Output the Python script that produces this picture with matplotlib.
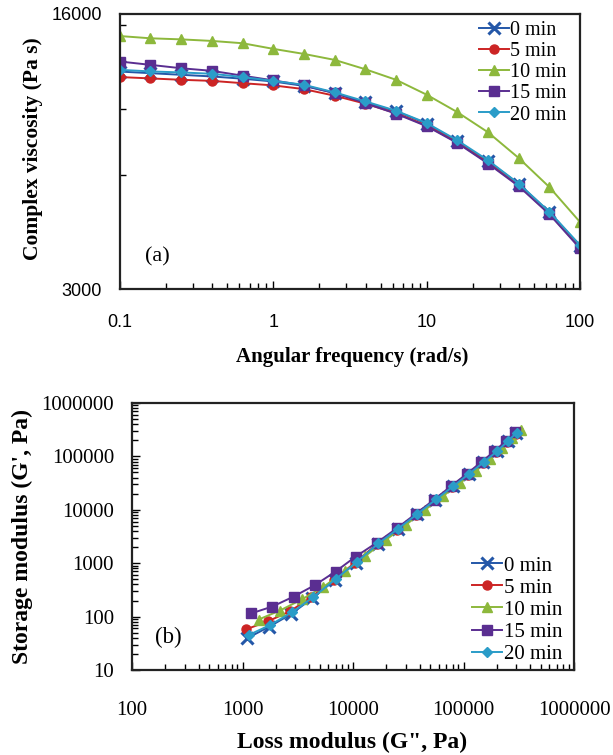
import matplotlib
matplotlib.use("Agg")
import matplotlib.pyplot as plt
from matplotlib.ticker import FixedLocator, FuncFormatter, NullFormatter

# ---------------- data ----------------
labels = ["0 min", "5 min", "10 min", "15 min", "20 min"]

freq = [0.1, 0.158, 0.251, 0.398, 0.631, 1, 1.58, 2.51, 3.98, 6.31,
        10, 15.8, 25.1, 39.8, 63.1, 100]

eta_0 = [11270, 11160, 11050, 10940, 10790, 10610, 10330, 9890, 9340, 8850,
         8210, 7370, 6530, 5690, 4790, 3900]
eta_5 = [10900, 10810, 10720, 10650, 10500, 10360, 10130, 9730, 9270, 8750,
         8110, 7330, 6470, 5640, 4750, 3860]
eta_10 = [13990, 13800, 13710, 13580, 13390, 12940, 12550, 12100, 11430, 10720,
          9790, 8810, 7790, 6660, 5580, 4510]
eta_15 = [11980, 11740, 11500, 11320, 10990, 10680, 10360, 9890, 9300, 8720,
          8080, 7300, 6440, 5610, 4730, 3840]
eta_20 = [11390, 11280, 11210, 11120, 10900, 10650, 10400, 9930, 9400, 8880,
          8240, 7420, 6570, 5700, 4800, 3920]

gpp_0 = [1094, 1754, 2742, 4290, 6880, 10670, 16830, 25290, 37970, 55670,
         80270, 111200, 151400, 199700, 250700, 300000]
gp_0 = [39, 65, 111, 221, 487, 1029, 2304, 4340, 8290, 15400,
        27370, 46630, 77200, 124100, 191000, 273800]

gpp_5 = [1085, 1705, 2680, 4180, 6700, 10400, 16400, 24800, 37400, 54800,
         79000, 109500, 149000, 197000, 247000, 296000]
gp_5 = [58, 82, 125, 230, 490, 1020, 2250, 4250, 8100, 15000,
        26800, 45500, 75500, 121000, 187000, 268000]

gpp_10 = [1396, 2183, 3438, 5393, 8420, 12870, 19710, 29950, 44430, 65200,
          92500, 129000, 174000, 222000, 275000, 330000]
gp_10 = [88, 130, 210, 360, 700, 1350, 2700, 5200, 9800, 18000,
         31500, 53000, 90000, 145000, 220000, 310000]

gpp_15 = [1200, 1860, 2900, 4550, 6950, 10600, 16500, 25000, 37000, 54000,
          76500, 106500, 145000, 190000, 240000, 292000]
gp_15 = [115, 154, 237, 392, 698, 1334, 2440, 4530, 8410, 15400,
         27370, 46630, 78600, 124100, 191000, 282000]

gpp_20 = [1135, 1785, 2800, 4350, 6950, 10800, 17000, 25500, 38300, 56200,
          81000, 112000, 152500, 201000, 252000, 302000]
gp_20 = [45, 70, 120, 230, 500, 1050, 2350, 4400, 8400, 15600,
         27800, 47000, 78000, 125000, 193000, 277000]

eta_all = [eta_0, eta_5, eta_10, eta_15, eta_20]
gpp_all = [gpp_0, gpp_5, gpp_10, gpp_15, gpp_20]
gp_all = [gp_0, gp_5, gp_10, gp_15, gp_20]

# ---------------- style ----------------
serif = "Liberation Serif"
sans = "Liberation Sans"
plt.rcParams["font.family"] = [serif, "DejaVu Serif"]

colors = ["#2457A8", "#CC2424", "#8DB83C", "#5A2E91", "#2A9CC8"]
markers = ["x", "o", "^", "s", "D"]
msizes = [8, 6.5, 7.5, 7, 5]
mews = [2.2, 1, 1, 1, 1]

W, H = 613, 755
fig = plt.figure(figsize=(W / 100, H / 100), dpi=100)


def px_axes(x0, y0, x1, y1):
    return fig.add_axes([x0 / W, 1 - y1 / H, (x1 - x0) / W, (y1 - y0) / H])


def style_frame(ax):
    for s in ax.spines.values():
        s.set_linewidth(1.6)
        s.set_color("#222222")


# ---------------- top panel ----------------
ax1 = px_axes(120, 14, 580, 289)
for i in range(5):
    ax1.plot(freq, eta_all[i], color=colors[i], marker=markers[i],
             ms=msizes[i], mew=mews[i], lw=1.4, label=labels[i])
ax1.set_xscale("log")
ax1.set_yscale("log")
ax1.set_xlim(0.1, 100)
ax1.set_ylim(3000, 16000)
ax1.yaxis.set_major_locator(FixedLocator([3000, 16000]))
ax1.yaxis.set_minor_locator(FixedLocator([6000, 9000, 12000, 15000]))
ax1.yaxis.set_major_formatter(FuncFormatter(lambda v, p: "%d" % round(v)))
ax1.yaxis.set_minor_formatter(NullFormatter())
ax1.xaxis.set_major_formatter(FuncFormatter(lambda v, p: "%g" % v))
ax1.xaxis.set_minor_formatter(NullFormatter())
ax1.tick_params(axis="both", which="both", direction="in", top=False, right=False)
ax1.tick_params(axis="x", which="major", length=6, width=1, pad=18, labelsize=13)
ax1.tick_params(axis="x", which="minor", length=4, width=1)
ax1.tick_params(axis="y", which="major", length=0, pad=13, labelsize=13)
ax1.tick_params(axis="y", which="minor", length=4, width=1)
ax1.tick_params(axis="both", which="major", labelfontfamily=sans)
style_frame(ax1)
leg1 = ax1.legend(loc="upper right", bbox_to_anchor=((566 - 120) / 460, (289 - 21) / 275),
                  frameon=False, numpoints=1, handlelength=1.45, handletextpad=0.05,
                  labelspacing=0.1, borderpad=0, borderaxespad=0,
                  prop={"family": serif, "size": 14.5})
ax1.text((157 - 120) / 460, (289 - 257) / 275, "(a)", transform=ax1.transAxes,
         ha="center", va="center", fontsize=16, fontfamily=serif)

fig.text(352 / W, 1 - 357 / H, "Angular frequency (rad/s)", ha="center", va="center",
         fontsize=15, fontweight="bold", fontfamily=serif)
fig.text(33 / W, 1 - 149 / H, "Complex viscosity (Pa s)", ha="center", va="center",
         rotation=90, fontsize=15.5, fontweight="bold", fontfamily=serif)

# ---------------- bottom panel ----------------
ax2 = px_axes(132, 403, 574, 670)
for i in range(5):
    ax2.plot(gpp_all[i], gp_all[i], color=colors[i], marker=markers[i],
             ms=msizes[i], mew=mews[i], lw=1.4, label=labels[i])
ax2.set_xscale("log")
ax2.set_yscale("log")
ax2.set_xlim(100, 1e6)
ax2.set_ylim(10, 1e6)
ax2.xaxis.set_major_formatter(FuncFormatter(lambda v, p: "%d" % round(v)))
ax2.yaxis.set_major_formatter(FuncFormatter(lambda v, p: "%d" % round(v)))
ax2.xaxis.set_minor_formatter(NullFormatter())
ax2.yaxis.set_minor_formatter(NullFormatter())
ax2.tick_params(axis="both", which="both", direction="in", top=False, right=False)
ax2.tick_params(axis="x", which="major", length=6, width=1, pad=22, labelsize=15)
ax2.tick_params(axis="y", which="major", length=6, width=1, pad=13, labelsize=15)
ax2.tick_params(axis="both", which="minor", length=4, width=1)
style_frame(ax2)
leg2 = ax2.legend(loc="upper right", bbox_to_anchor=((562 - 132) / 442, (670 - 556) / 267),
                  frameon=False, numpoints=1, handlelength=1.45, handletextpad=0.05,
                  labelspacing=0.12, borderpad=0, borderaxespad=0,
                  prop={"family": serif, "size": 15})
ax2.text((168 - 132) / 442, (670 - 637) / 267, "(b)", transform=ax2.transAxes,
         ha="center", va="center", fontsize=16.5, fontfamily=serif)

fig.text(352 / W, 1 - 742 / H, "Loss modulus (G\", Pa)", ha="center", va="center",
         fontsize=17, fontweight="bold", fontfamily=serif)
fig.text(22 / W, 1 - 536 / H, "Storage modulus (G', Pa)", ha="center", va="center",
         rotation=90, fontsize=17, fontweight="bold", fontfamily=serif)

fig.savefig("out.png", dpi=100)
